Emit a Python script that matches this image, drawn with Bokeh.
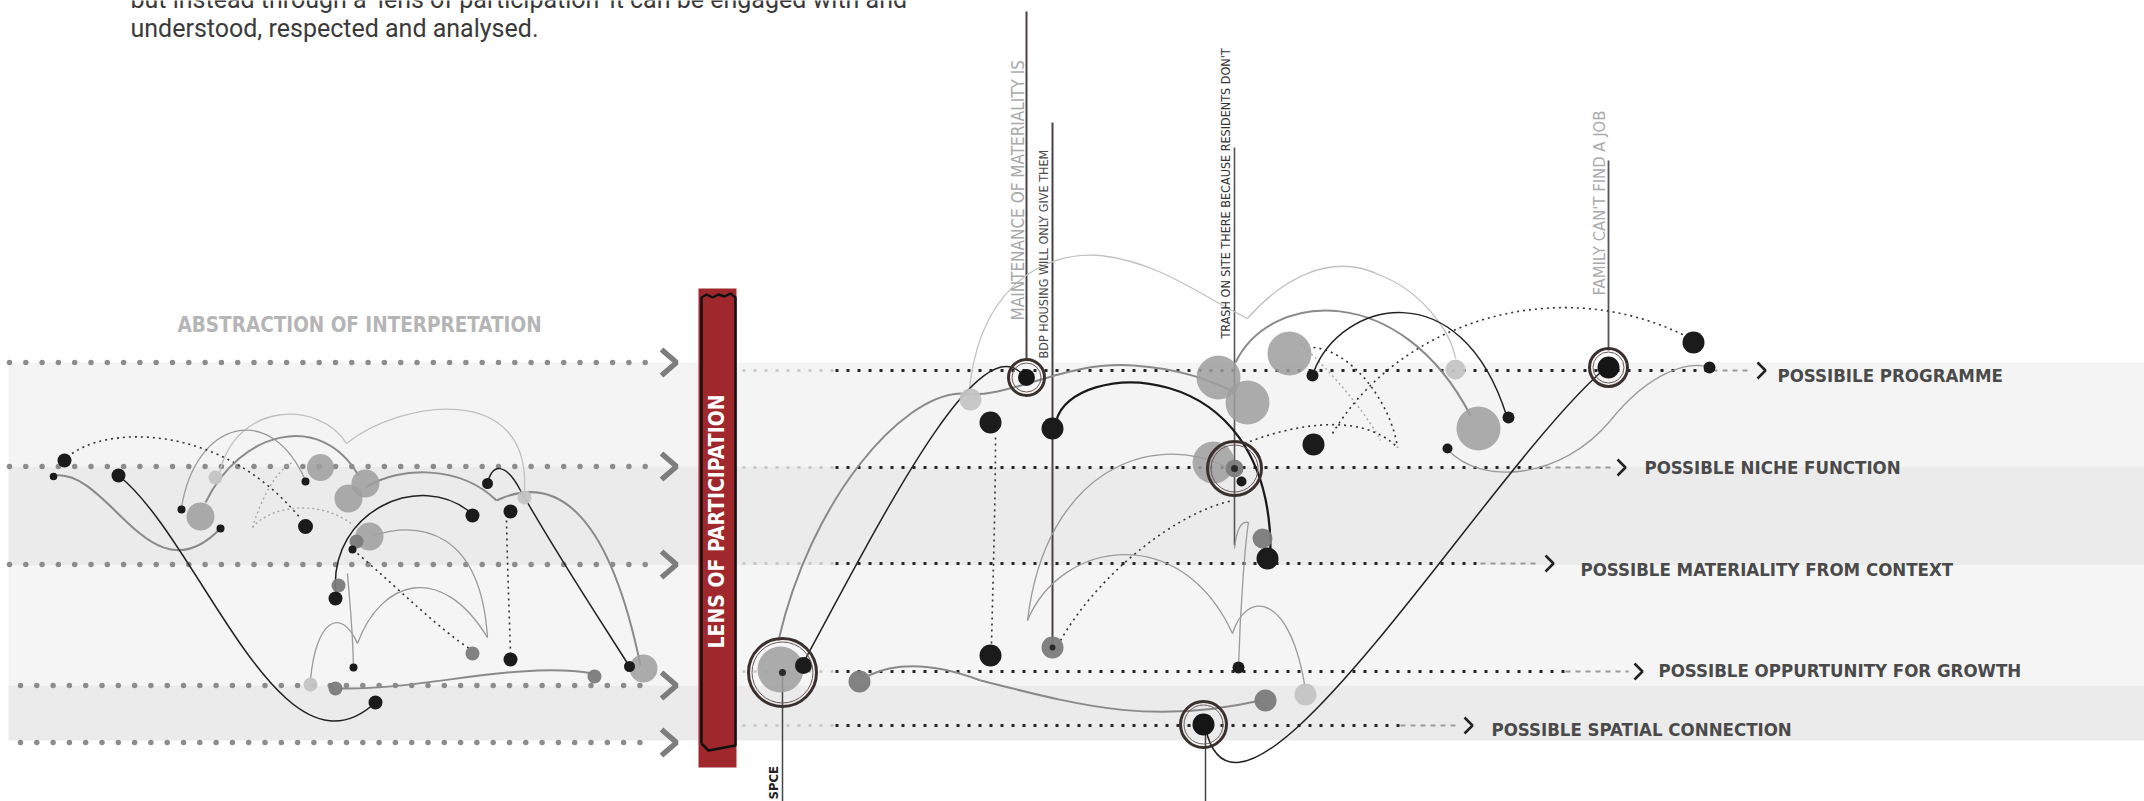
import numpy as np
from bokeh.plotting import figure
from bokeh.models import Range1d, ColumnDataSource
from bokeh.embed import file_html
from bokeh.resources import INLINE
from bokeh.core.properties import value

# ---------------- data (page-pixel coordinates of the diagram) ----------------
intro_lines = ["but instead through a \u2018lens of participation\u2019 it can be engaged with and",
               "understood, respected and analysed."]
intro_base = [-1, 28]

band_top = [362, 466, 565, 685]
band_bottom = [466, 565, 685, 740]
band_color = ["#f4f4f4", "#ebebeb", "#f5f5f5", "#ebebeb"]

left_row_y = [362, 466, 564, 685, 742]
left_row_start = [9, 9, 9, 20, 20]
left_chev_x = [661, 661, 661, 661, 661]

right_row_y = [370, 467, 563, 671, 725]
right_chev_x = [1757, 1617, 1545, 1634, 1464]
right_dark_end = [1712, 1545, 1480, 1565, 1400]
right_labels = ["POSSIBILE PROGRAMME", "POSSIBLE NICHE FUNCTION",
                "POSSIBLE MATERIALITY FROM CONTEXT", "POSSIBLE OPPURTUNITY FOR GROWTH",
                "POSSIBLE SPATIAL CONNECTION"]
right_label_x = [1777, 1644, 1580, 1658, 1491]
right_label_base = [375, 467, 569, 670, 729]

vt_text = ["MAINTENANCE OF MATERIALITY IS", "BDP HOUSING WILL ONLY GIVE THEM",
           "TRASH ON SITE THERE BECAUSE RESIDENTS  DON'T", "FAMILY CAN'T FIND A JOB", "SPCE"]
vt_x = [1017, 1043, 1225, 1599, 773]
vt_y = [320, 358, 338, 295, 799]
vt_size = ["17px", "12.5px", "12.5px", "16.5px", "13px"]
vt_color = ["#a9a9a9", "#4a4a4a", "#333333", "#ababab", "#222222"]
vt_style = ["normal", "normal", "normal", "normal", "bold"]

vline_x = [1026, 1052, 1234, 1608, 782, 1205]
vline_top = [11, 122, 147, 160, 672, 725]
vline_bottom = [360, 646, 545, 350, 801, 801]
vline_w = [2.0, 2.0, 1.6, 1.8, 1.5, 1.5]
vline_c = ["#4a4242", "#4a4242", "#555555", "#555555", "#444444", "#444444"]

# nodes: (x, y, r)
black_nodes = [(64, 460, 7), (53, 476, 3.8), (118, 475, 7), (181, 509, 4), (220, 528, 4),
               (305, 481, 4), (305, 526, 7.5), (472, 515, 7), (487, 483, 5.5), (510, 511, 7),
               (352, 549, 4), (335, 598, 7), (353, 667, 4), (510, 659, 7), (375, 702, 7),
               (629, 666, 5.5),
               (990, 422, 11), (1052, 428, 11), (990, 655, 11), (1312, 375, 6), (1313, 444, 11),
               (1267, 558, 11), (1447, 448, 5), (1238, 667, 6), (1693, 342, 11), (1709, 367, 6),
               (1508, 417, 6), (803, 665, 8.5), (1241, 481, 5)]
gray_nodes = [(200, 516, 14), (320, 467, 13.5), (365, 483, 14), (348, 498, 14), (369, 536, 14),
              (643, 668, 14),
              (1218, 377, 22), (1247, 402, 22), (1289, 353, 22), (1213, 462, 21), (1478, 428, 22),
              (780, 669, 23)]
light_nodes = [(215, 477, 7), (524, 497, 7), (310, 684, 7),
               (970, 399, 11), (1455, 369, 10), (1305, 694, 11)]
dark_gray_nodes = [(356, 541, 7), (338, 585, 7), (472, 653, 7), (335, 688, 7), (594, 676, 7),
                   (859, 681, 11), (1265, 700, 11), (1262, 538, 10), (1052, 647, 11), (1234, 468, 9)]
pin_nodes = [(1052, 647, 3), (1234, 468, 3.5), (782, 672, 3.5)]
ring_nodes = [(1026, 377, 18), (1234, 468, 27), (1608, 367, 19), (782, 672, 34), (1203, 724, 23)]
ring_cores = [(1026, 377, 8.5), (1608, 367, 11), (1203, 724, 11)]

# curves: (x0, y0, cx0, cy0, cx1, cy1, x1, y1)
black_curves = [(804, 660, 880, 520, 975, 330, 1020, 372),
                (1313, 372, 1340, 300, 1460, 270, 1506, 415),
                (1205, 728, 1240, 880, 1480, 480, 1600, 372),
                (118, 475, 200, 540, 280, 790, 375, 702),
                (487, 483, 492, 462, 505, 462, 520, 490),
                (520, 490, 560, 560, 600, 620, 629, 666),
                (335, 590, 330, 510, 420, 470, 470, 512)]
black_thick_curves = [(1056, 420, 1070, 360, 1270, 350, 1270, 550)]
mid_curves = [(778, 640, 810, 500, 900, 395, 960, 393),
              (960, 393, 1010, 400, 1060, 360, 1133, 365),
              (1133, 365, 1180, 368, 1210, 380, 1235, 392),
              (1235, 362, 1270, 290, 1400, 280, 1470, 415),
              (868, 675, 900, 660, 940, 665, 980, 680),
              (980, 680, 1080, 705, 1150, 725, 1260, 700),
              (205, 502, 240, 430, 320, 410, 358, 475),
              (365, 487, 400, 465, 460, 465, 496, 500),
              (496, 500, 560, 470, 610, 520, 640, 665),
              (340, 688, 420, 690, 520, 660, 592, 673),
              (55, 475, 110, 470, 150, 600, 220, 528)]
thin_curves = [(1027, 620, 1045, 470, 1150, 430, 1225, 466),
               (1027, 620, 1060, 540, 1180, 520, 1232, 633),
               (1232, 633, 1245, 590, 1290, 590, 1305, 690),
               (1238, 667, 1240, 600, 1245, 540, 1248, 522),
               (1248, 522, 1240, 520, 1236, 530, 1234, 548),
               (1447, 449, 1480, 485, 1560, 480, 1610, 420),
               (1610, 420, 1650, 370, 1690, 360, 1709, 367),
               (181, 507, 195, 420, 270, 400, 305, 480),
               (372, 535, 420, 520, 480, 530, 487, 637),
               (357, 643, 380, 580, 440, 560, 487, 637),
               (310, 680, 315, 620, 340, 605, 357, 643),
               (353, 667, 352, 620, 348, 590, 347, 573)]
light_curves = [(968, 400, 975, 290, 1040, 250, 1100, 255),
                (1100, 255, 1160, 262, 1200, 295, 1247, 318),
                (1247, 318, 1280, 280, 1330, 250, 1380, 275),
                (1380, 275, 1420, 290, 1450, 330, 1455, 358),
                (219, 473, 235, 400, 320, 400, 346, 443),
                (346, 443, 400, 400, 530, 380, 524, 490)]
dotted_curves = [(995, 437, 995, 500, 992, 600, 991, 643),
                 (1060, 640, 1100, 570, 1180, 510, 1233, 500),
                 (1244, 443, 1290, 425, 1360, 410, 1397, 447),
                 (1313, 347, 1350, 350, 1390, 400, 1397, 447),
                 (1332, 433, 1400, 320, 1560, 270, 1690, 338),
                 (67, 457, 100, 425, 220, 420, 300, 518),
                 (357, 553, 400, 590, 440, 630, 472, 650),
                 (506, 520, 507, 570, 509, 620, 510, 653)]
faint_dotted_curves = [(252, 527, 260, 500, 275, 470, 292, 462),
                       (252, 527, 270, 505, 320, 498, 353, 525),
                       (1300, 343, 1340, 380, 1370, 420, 1380, 440)]

# ---------------- figure ----------------
W, H = 2144, 801
p = figure(width=W, height=H, x_range=Range1d(0, W), y_range=Range1d(H, 0),
           toolbar_location=None, output_backend="svg", min_border=0,
           x_axis_location=None, y_axis_location=None)
p.grid.visible = False
p.outline_line_color = None
p.background_fill_color = "white"
p.border_fill_color = "white"

COND = "DejaVu Sans Condensed"

# bands
p.quad(left=8, right=W, top=band_top, bottom=band_bottom, fill_color=band_color, line_color=None)

# left dotted rows
lx, ly = [], []
for y0, s in zip(left_row_y, left_row_start):
    xs = np.arange(s, 652, 16.3)
    lx.extend(xs)
    ly.extend([y0] * len(xs))
p.scatter(lx, ly, size=5.5, marker="circle", fill_color="#8c8c8c", line_color=None)
p.multi_line(xs=[[cx, cx + 15, cx] for cx in left_chev_x],
             ys=[[y - 13, y, y + 13] for y in left_row_y],
             line_color="#7d7d7d", line_width=5.5)

# lens bar
p.quad(left=698, right=736, top=288, bottom=767, fill_color="#a0282d", line_color=None)
p.multi_line(xs=[[701, 701, 706, 712, 718, 724, 730, 735, 735, 708, 701]],
             ys=[[743, 297, 294, 297, 294, 296, 293, 297, 745, 750, 743]],
             line_color="#111111", line_width=2.5)
p.text(x=[716], y=[521], text=["LENS OF PARTICIPATION"], angle=np.pi / 2,
       text_align="center", text_baseline="alphabetic", text_color="white",
       text_font=value(COND), text_font_style="bold", text_font_size="21px")

# right dotted rows
for y0, cx, de in zip(right_row_y, right_chev_x, right_dark_end):
    p.segment(x0=[742], y0=[y0], x1=[835], y1=[y0], line_color="#c4c4c4", line_width=2.5, line_dash="3 8")
    p.segment(x0=[835], y0=[y0], x1=[de], y1=[y0], line_color="#262626", line_width=3, line_dash="3 8")
    p.segment(x0=[de], y0=[y0], x1=[cx - 6], y1=[y0], line_color="#9a9a9a", line_width=2, line_dash="5 5")
p.multi_line(xs=[[cx, cx + 8, cx] for cx in right_chev_x],
             ys=[[y - 8, y, y + 8] for y in right_row_y],
             line_color="#222222", line_width=2.5)
p.text(x=right_label_x, y=right_label_base, text=right_labels, text_align="left",
       text_baseline="alphabetic", text_color="#4a4a4a", text_font=value(COND),
       text_font_style="bold", text_font_size="18.5px")

# vertical pins
p.segment(x0=vline_x, y0=vline_top, x1=vline_x, y1=vline_bottom, line_color=vline_c, line_width=vline_w)

def bez(group, color, width, dash="solid", alpha=1.0):
    a = np.array(group, dtype=float)
    src = ColumnDataSource(dict(x0=a[:, 0], y0=a[:, 1], cx0=a[:, 2], cy0=a[:, 3],
                                cx1=a[:, 4], cy1=a[:, 5], x1=a[:, 6], y1=a[:, 7]))
    p.bezier(x0="x0", y0="y0", x1="x1", y1="y1", cx0="cx0", cy0="cy0", cx1="cx1", cy1="cy1",
             source=src, line_color=color, line_width=width, line_dash=dash, line_alpha=alpha)

bez(light_curves, "#c0c0c0", 1.3)
bez(thin_curves, "#9a9a9a", 1.3)
bez(faint_dotted_curves, "#a8a8a8", 1.4, "2 3")
bez(dotted_curves, "#333333", 1.6, "2 4")
bez(mid_curves, "#8a8a8a", 2.0)
bez(black_curves, "#222222", 1.5)
bez(black_thick_curves, "#1a1a1a", 2.3)

def nodes(group, color, alpha=1.0):
    a = np.array(group, dtype=float)
    p.circle(x=a[:, 0], y=a[:, 1], radius=a[:, 2], fill_color=color, fill_alpha=alpha, line_color=None)

nodes(gray_nodes, "#9d9d9f", 0.85)
nodes(light_nodes, "#c4c4c4", 0.95)
nodes(dark_gray_nodes, "#7b7b7b", 0.95)
nodes(black_nodes, "#1b1b1b")
nodes(ring_cores, "#161616")
nodes(pin_nodes, "#2a2a2a")
ra = np.array(ring_nodes, dtype=float)
p.circle(x=ra[:, 0], y=ra[:, 1], radius=ra[:, 2], fill_color=None, line_color="#3b302c", line_width=3)
p.circle(x=ra[:, 0], y=ra[:, 1], radius=ra[:, 2] - 3.5, fill_color=None, line_color="#6a5a55", line_width=1)

# texts
p.text(x=[130, 130], y=intro_base, text=intro_lines, text_align="left", text_baseline="alphabetic",
       text_color="#3a3a3a", text_font=value("Roboto"), text_font_size="25px")
p.text(x=[177], y=[324], text=["ABSTRACTION OF INTERPRETATION"], text_align="left",
       text_baseline="alphabetic", text_color="#b5b5b5", text_font=value(COND),
       text_font_style="bold", text_font_size="20.5px")
vsrc = ColumnDataSource(dict(x=vt_x, y=vt_y, t=vt_text, s=vt_size, c=vt_color, st=vt_style))
p.text(x="x", y="y", text="t", source=vsrc, angle=np.pi / 2, text_align="left",
       text_baseline="alphabetic", text_color="c", text_font=value(COND),
       text_font_size="s", text_font_style="st")

open("out.html", "w").write(file_html(p, INLINE))
